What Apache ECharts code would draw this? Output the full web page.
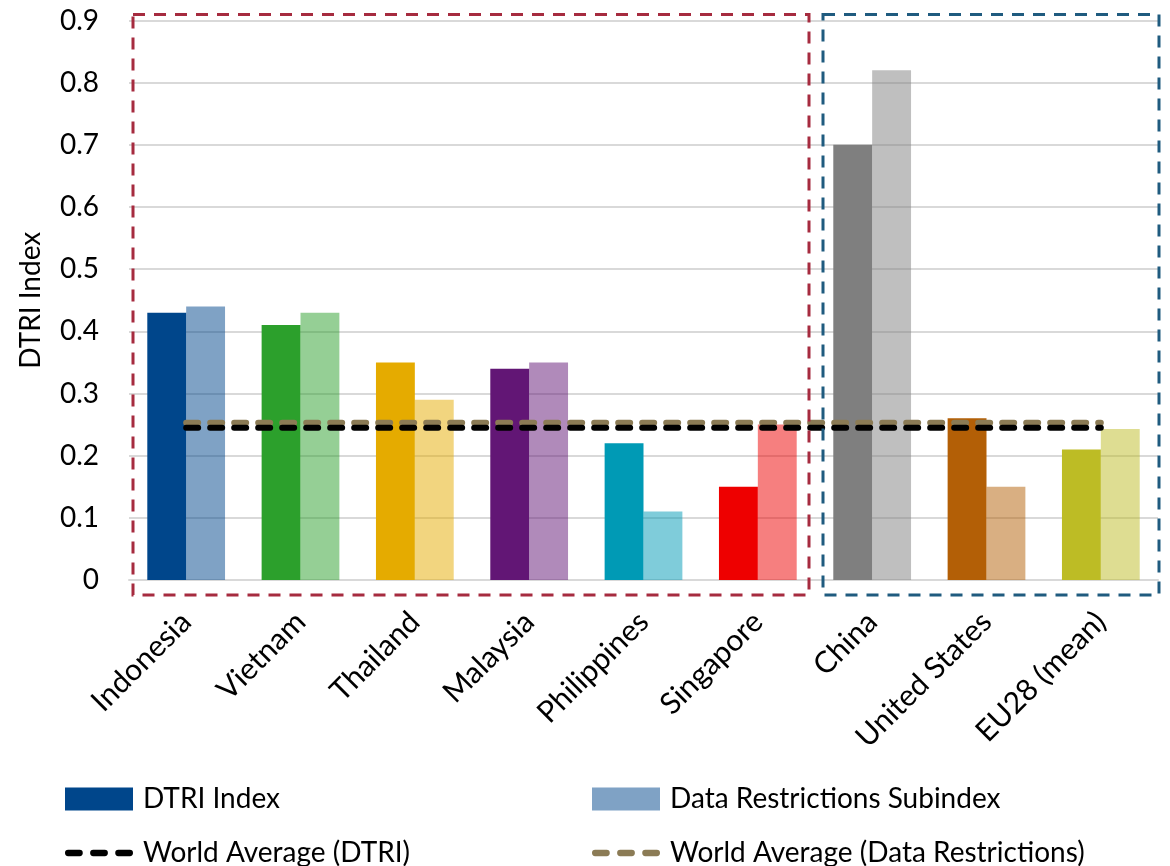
<!DOCTYPE html>
<html>
<head>
<meta charset="utf-8">
<script src="https://cdn.jsdelivr.net/npm/echarts@6/dist/echarts.min.js"></script>
<style>
  html, body { margin: 0; padding: 0; background: #fff; }
  #chart { width: 1170px; height: 866px; }
</style>
</head>
<body>
<div id="chart"></div>
<script>
// Digital Trade Restrictiveness Index by economy
const countries = ['Indonesia', 'Vietnam', 'Thailand', 'Malaysia', 'Philippines', 'Singapore', 'China', 'United States', 'EU28 (mean)'];
const dtriIndex = [0.43, 0.41, 0.35, 0.34, 0.22, 0.15, 0.70, 0.26, 0.21];
const dataRestrictions = [0.44, 0.43, 0.29, 0.35, 0.11, 0.25, 0.82, 0.15, 0.243];
const worldAvgDtri = [0.245, 0.245, 0.245, 0.245, 0.245, 0.245, 0.245, 0.245, 0.245];
const worldAvgDataRestrictions = [0.253, 0.253, 0.253, 0.253, 0.253, 0.253, 0.253, 0.253, 0.253];
const yTickValues = [0, 0.1, 0.2, 0.3, 0.4, 0.5, 0.6, 0.7, 0.8, 0.9];

// one hue per economy; the subindex bar is the same hue at half opacity
const economyColors = ['#00468b', '#2ca02c', '#e5ab00', '#621675', '#009ab5', '#ee0000', '#7f7f7f', '#b35f06', '#bdbc25'];

// dashed frames around the ASEAN group and the comparison group
const frames = [
  { first: 0, last: 5, color: '#a62b3f' },
  { first: 6, last: 8, color: '#1f5b7f' }
];

const FONT = 'Lato';
// legend glyph for the dashed average lines: three rounded dashes
const DASH_ICON = 'path://M3,0h11a3,3 0 0 1 0,6h-11a3,3 0 0 1 0,-6z' +
  'M27,0h11a3,3 0 0 1 0,6h-11a3,3 0 0 1 0,-6z' +
  'M51,0h11a3,3 0 0 1 0,6h-11a3,3 0 0 1 0,-6z';

const chart = echarts.init(document.getElementById('chart'), null, { renderer: 'canvas' });

// one legend per entry, laid out as a 2 x 2 block under the axis
function legendEntry(name, icon, left, top) {
  return {
    left: left, top: top, orient: 'horizontal', itemWidth: 68, itemHeight: 23,
    padding: 0, selectedMode: false,
    data: [{ name: name, icon: icon }],
    textStyle: { fontFamily: FONT, fontSize: 28, lineHeight: 23, color: '#000', padding: [0, 0, 0, 5] }
  };
}

const option = {
  animation: false,
  backgroundColor: '#fff',
  grid: { left: 129, right: 12, top: 20.5, bottom: 286, containLabel: false },
  xAxis: {
    type: 'category',
    data: countries,
    axisTick: { show: false },
    axisLine: { lineStyle: { color: '#d9d9d9', width: 2 } },
    axisLabel: { rotate: 45, margin: 37, fontFamily: FONT, fontSize: 30, color: '#000' }
  },
  yAxis: {
    type: 'value',
    min: yTickValues[0],
    max: yTickValues[yTickValues.length - 1],
    interval: 0.1,
    name: 'DTRI Index',
    nameLocation: 'middle',
    nameRotate: 90,
    nameGap: 84,
    nameTextStyle: { fontFamily: FONT, fontSize: 28, color: '#000' },
    axisLine: { show: false },
    axisTick: { show: false },
    splitLine: { lineStyle: { color: '#d9d9d9', width: 2 } },
    axisLabel: {
      margin: 30, fontFamily: FONT, fontSize: 28, color: '#000',
      formatter: v => (v === 0 ? '0' : v.toFixed(1))
    }
  },
  legend: [
    legendEntry('DTRI Index', 'rect', 65, 785),
    legendEntry('World Average (DTRI)', DASH_ICON, 65, 839),
    legendEntry('Data Restrictions Subindex', 'rect', 592, 785),
    legendEntry('World Average (Data Restrictions)', DASH_ICON, 592, 839)
  ],
  series: [
    {
      name: 'DTRI Index',
      type: 'bar',
      barGap: '0%',
      barCategoryGap: '32%',
      color: economyColors[0],
      data: dtriIndex.map((v, i) => ({ value: v, itemStyle: { color: economyColors[i] } })),
      z: 2
    },
    {
      name: 'Data Restrictions Subindex',
      type: 'bar',
      barGap: '0%',
      barCategoryGap: '32%',
      color: '#7fa2c5',
      data: dataRestrictions.map((v, i) => ({ value: v, itemStyle: { color: economyColors[i], opacity: 0.5 } })),
      z: 2
    },
    {
      name: 'World Average (Data Restrictions)',
      type: 'line',
      data: worldAvgDataRestrictions,
      symbol: 'none',
      color: '#8b7b55',
      lineStyle: { color: '#8b7b55', width: 6, type: [12, 12], cap: 'round' },
      z: 5
    },
    {
      name: 'World Average (DTRI)',
      type: 'line',
      data: worldAvgDtri,
      symbol: 'none',
      color: '#000',
      lineStyle: { color: '#000', width: 6, type: [12, 12], cap: 'round' },
      z: 6
    }
  ]
};

chart.setOption(option);

// frames are placed from the category and value scales once the grid is laid out
function drawFrames() {
  const c0 = chart.convertToPixel({ xAxisIndex: 0 }, 0);
  const c1 = chart.convertToPixel({ xAxisIndex: 0 }, 1);
  const band = c1 - c0;
  const yTop = chart.convertToPixel({ yAxisIndex: 0 }, yTickValues[yTickValues.length - 1]) - 6;
  const yBottom = chart.convertToPixel({ yAxisIndex: 0 }, 0) + 15;
  const plotLeft = c0 - band / 2;
  const plotRight = chart.convertToPixel({ xAxisIndex: 0 }, countries.length - 1) + band / 2;

  const elements = frames.map((f, k) => {
    const left = f.first === 0
      ? plotLeft + 4
      : chart.convertToPixel({ xAxisIndex: 0 }, f.first) - band / 2 + 8;
    const right = f.last === countries.length - 1
      ? plotRight + 1
      : chart.convertToPixel({ xAxisIndex: 0 }, f.last) + band / 2 - 6;
    return {
      type: 'rect',
      id: 'frame' + k,
      z: 10,
      silent: true,
      shape: { x: left, y: yTop, width: right - left, height: yBottom - yTop },
      style: { fill: 'none', stroke: f.color, lineWidth: 3, lineDash: [12, 9] }
    };
  });
  chart.setOption({ graphic: elements });
}
drawFrames();
</script>
</body>
</html>
